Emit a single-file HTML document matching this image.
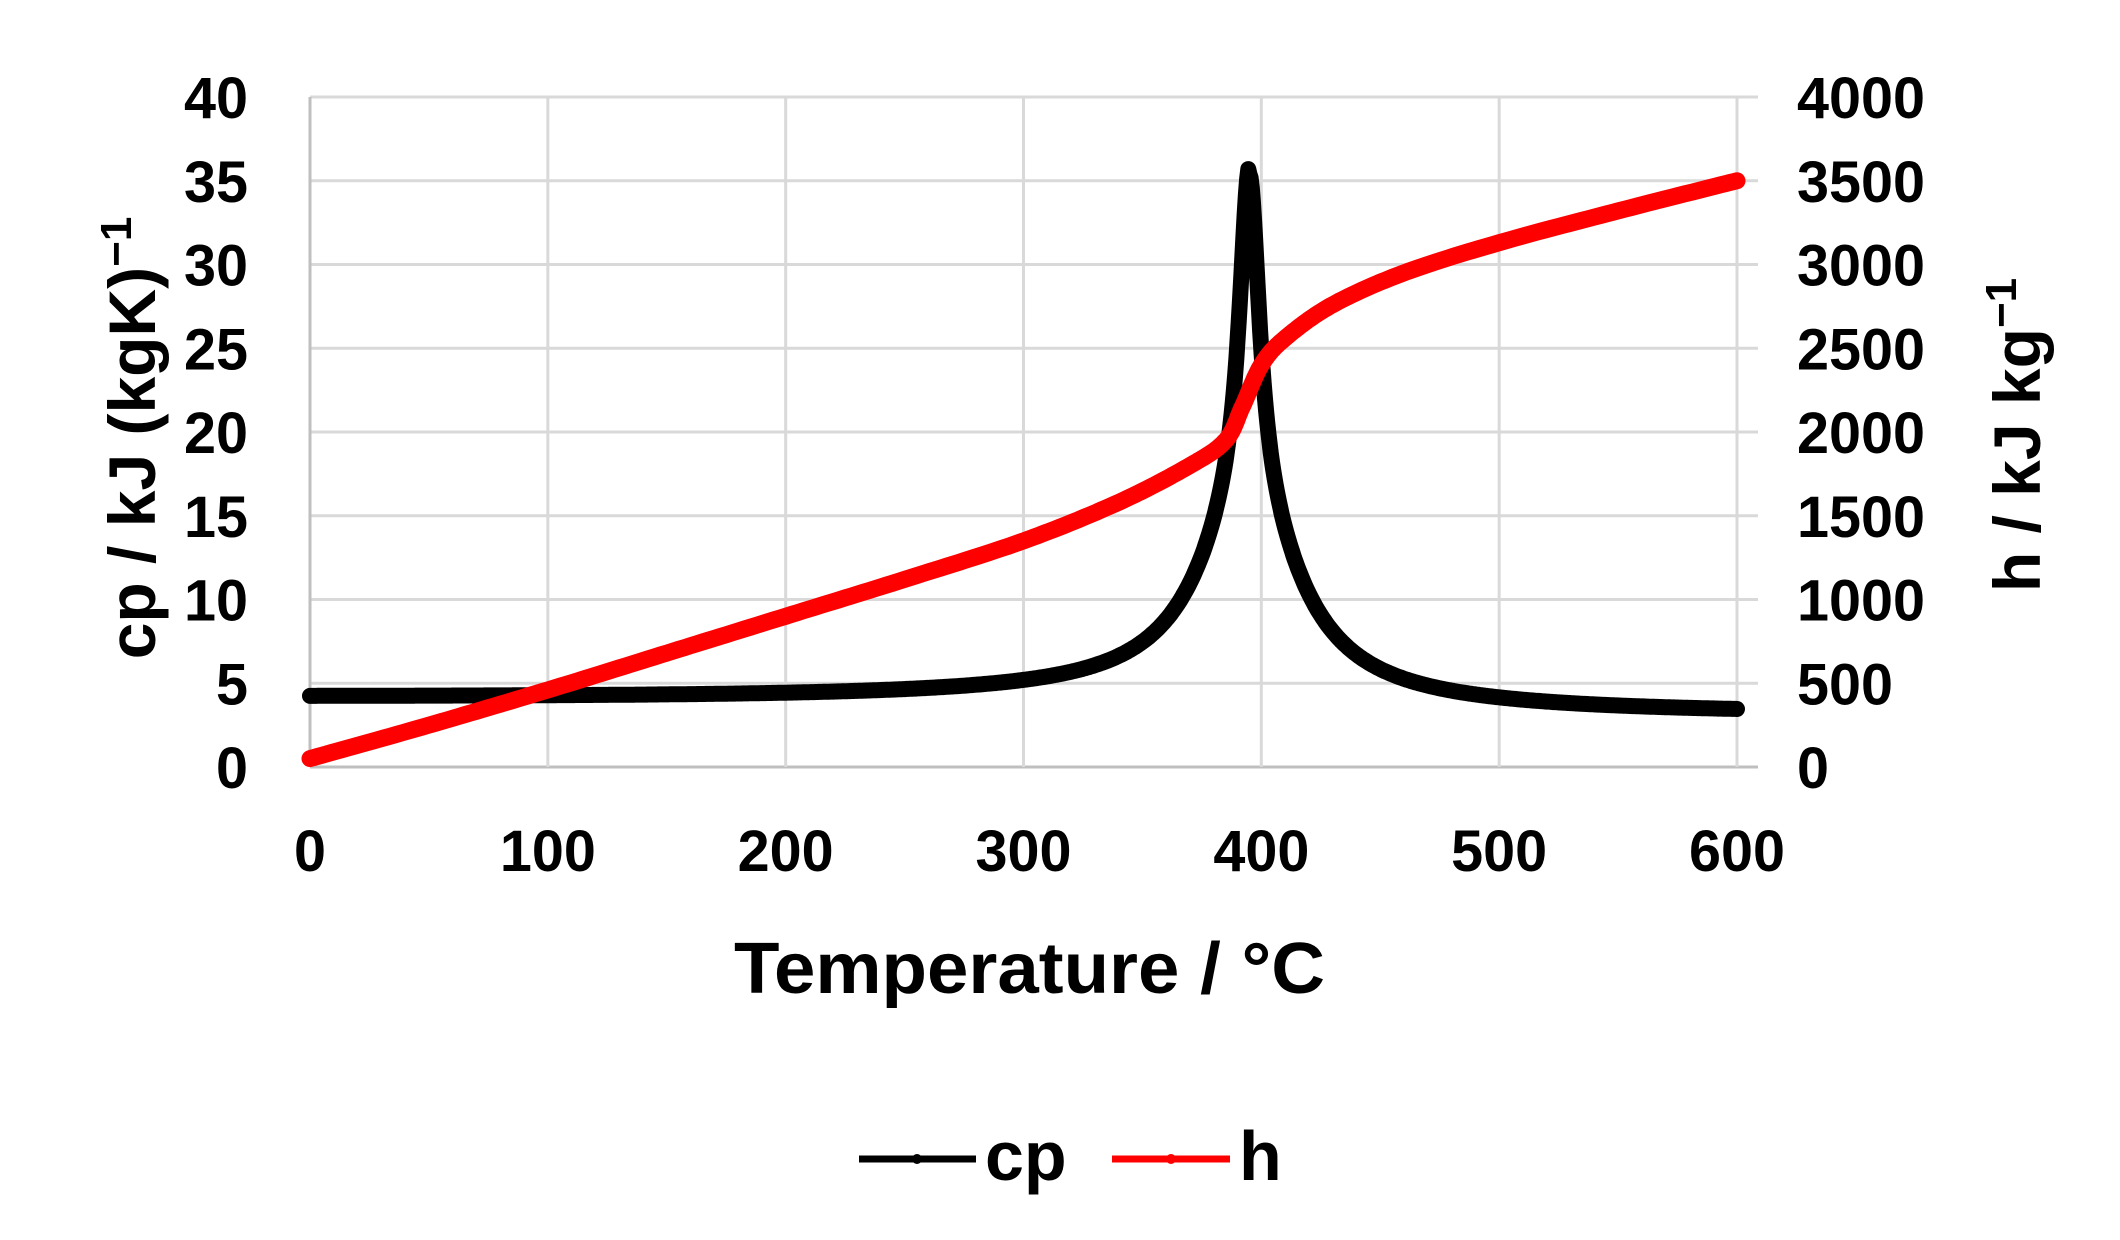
<!DOCTYPE html>
<html><head><meta charset="utf-8"><style>
html,body{margin:0;padding:0;background:#fff}
svg{display:block}
text{font-family:"Liberation Sans",sans-serif;font-weight:bold;fill:#000}
</style></head><body>
<svg id="s" width="2120" height="1240" viewBox="0 0 2120 1240" xmlns="http://www.w3.org/2000/svg">
<g id="grid" stroke="#d9d9d9" stroke-width="3"></g>
<g id="lbl" font-size="58"></g>
<path id="cp" fill="none" stroke="#000" stroke-width="16" stroke-linejoin="round" stroke-linecap="round"/>
<path id="h" fill="none" stroke="#f00" stroke-width="17" stroke-linejoin="round" stroke-linecap="round"/>
<text x="734" y="993" font-size="72" textLength="591" lengthAdjust="spacingAndGlyphs">Temperature / °C</text>
<text transform="translate(155,438) rotate(-90)" font-size="66" text-anchor="middle">cp / kJ (kgK)<tspan dy="-24" font-size="44">−1</tspan></text>
<text transform="translate(2040,435) rotate(-90)" font-size="66" text-anchor="middle">h / kJ kg<tspan dy="-24" font-size="44">−1</tspan></text>
<line x1="859" y1="1159" x2="976" y2="1159" stroke="#000" stroke-width="7"/>
<circle cx="917" cy="1159" r="5"/>
<text x="985" y="1180" font-size="70">cp</text>
<line x1="1112" y1="1159" x2="1230" y2="1159" stroke="#f00" stroke-width="7"/>
<circle cx="1171" cy="1159" r="5" fill="#f00"/>
<text x="1239" y="1180" font-size="70">h</text>
</svg>
<script>
var L=310,R=1737,T=97,B=767;
function X(t){return L+(R-L)*t/600}
function Yc(v){return B-(B-T)*v/40}
function Yh(v){return B-(B-T)*v/4000}
var g=document.getElementById('grid'),lb=document.getElementById('lbl'),ns='http://www.w3.org/2000/svg';
function el(p,tag,a,txt){var e=document.createElementNS(ns,tag);for(var k in a)e.setAttribute(k,a[k]);if(txt!=null)e.textContent=txt;p.appendChild(e);return e}
for(var i=0;i<=8;i++){var y=Yc(i*5);el(g,'line',{x1:L,y1:y,x2:1758,y2:y,stroke:(i==0?'#bfbfbf':'#d9d9d9')});
var s=String(i*5);el(lb,'text',{x:248-s.length*32,y:y+21,textLength:s.length*32,lengthAdjust:'spacingAndGlyphs'},s);
var s2=String(i*500);el(lb,'text',{x:1797,y:y+21,textLength:s2.length*32,lengthAdjust:'spacingAndGlyphs'},s2);}
for(var j=0;j<=6;j++){var x=X(j*100);el(g,'line',{x1:x,y1:T,x2:x,y2:B,stroke:(j==0?'#bfbfbf':'#d9d9d9')});
var s3=String(j*100);el(lb,'text',{x:x-s3.length*16,y:871,textLength:s3.length*32,lengthAdjust:'spacingAndGlyphs'},s3);}
function cp(t){var b=t<395?4.2+0.7*Math.pow(t/395,4):3.2+1.2*Math.exp(-(t-395)/80);var d=t-395;return b+20/(1+(d/5)*(d/5))+11/(1+(d/25)*(d/25))}
var d='';for(var t=0;t<=600;t+=0.5){d+=(t?'L':'M')+X(t).toFixed(1)+','+Yc(cp(t)).toFixed(1)}
document.getElementById('cp').setAttribute('d',d);
var P=[[0,50],[50,250],[100,460],[150,680],[200,900],[250,1120],[300,1350],[340,1580],[370,1800],[385,1950],[392,2150],[400,2400],[410,2560],[430,2760],[460,2950],[500,3130],[550,3320],[600,3500]];
var dh='';
for(var k=0;k<P.length-1;k++){var p0=P[Math.max(0,k-1)],p1=P[k],p2=P[k+1],p3=P[Math.min(P.length-1,k+2)];
for(var q=0;q<=20;q++){var u=q/20,u2=u*u,u3=u2*u;
function cr(a,b,c,e){return 0.5*((2*b)+(-a+c)*u+(2*a-5*b+4*c-e)*u2+(-a+3*b-3*c+e)*u3)}
var tx=cr(p0[0],p1[0],p2[0],p3[0]),hy=cr(p0[1],p1[1],p2[1],p3[1]);
dh+=(dh?'L':'M')+X(tx).toFixed(1)+','+Yh(hy).toFixed(1);}}
document.getElementById('h').setAttribute('d',dh);
</script>
</body></html>
